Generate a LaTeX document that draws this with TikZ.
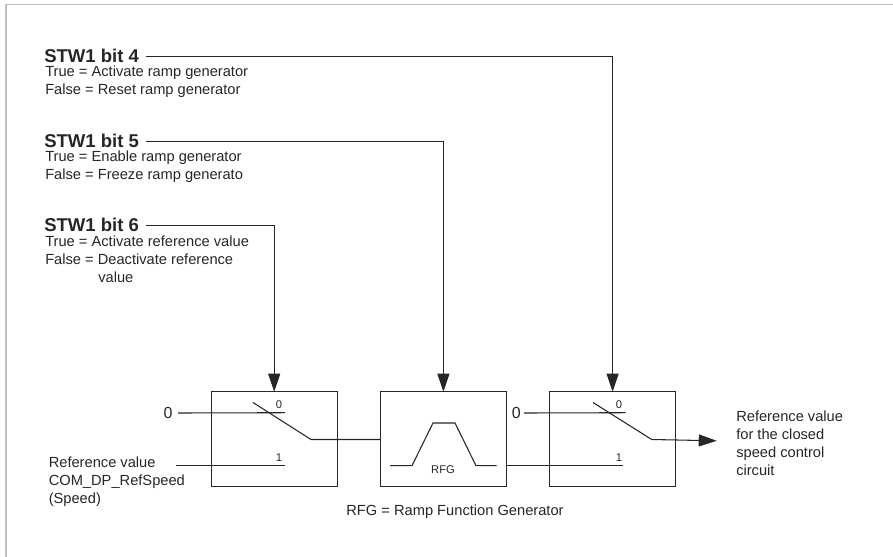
\documentclass[tikz,border=0pt]{standalone}
\usepackage{fontspec}
\setmainfont{Liberation Sans}
\usepackage{xcolor}
\usetikzlibrary{arrows.meta,positioning,calc}

\begin{document}
\begin{tikzpicture}[
  x=0.75pt,y=-0.75pt,
  font=\fontsize{11}{13.5}\selectfont,
  node distance=32.4pt,
  txt/.style={inner sep=0pt,align=left,text=black!85},
  bitname/.style={txt,anchor=north west,font=\fontsize{13.9}{15}\selectfont\bfseries},
  bitnote/.style={txt,anchor=north west},
  block/.style={draw=black!85,line width=0.95pt,minimum width=94.5pt,minimum height=71.25pt,inner sep=0pt,outer sep=0pt},
  small/.style={txt,font=\fontsize{8.4}{10}\selectfont},
  wire/.style={draw=black!85,line width=0.8pt},
  arr/.style={wire,-{Triangle[length=13.5pt,width=9pt]}},
]
\useasboundingbox (0,0) rectangle (893,557);
\draw[black!25,line width=0.9pt] (893,4.5) -- (6,4.5) -- (6,557);
% control word texts
\node[bitname] (bit4) at (44,49) {STW1 bit 4};
\node[bitnote] (note4) at (45,65.7) {True = Activate ramp generator\\False = Reset ramp generator};
\node[bitname] (bit5) at (44,134) {STW1 bit 5};
\node[bitnote] (note5) at (45,151) {True = Enable ramp generator\\False = Freeze ramp generato};
\node[bitname] (bit6) at (44,218) {STW1 bit 6};
\node[bitnote] (note6) at (45,235.5) {True = Activate reference value\\False = Deactivate reference\\\hspace*{39.75pt}value};
% blocks
\node[block] (sw1) at (274.2,439.2) {};
\node[block,right=of sw1] (rfg) {};
\node[block,right=of rfg] (swb) {};
% inputs and outputs
\node[txt,anchor=east,font=\fontsize{12}{13.5}\selectfont] (zeroa) at (172.7,413) {0};
\node[txt,anchor=east,font=\fontsize{12}{13.5}\selectfont] (zerob) at (521,413) {0};
\node[txt,anchor=north west] (refin) at (48.5,456.5) {Reference value\\COM\_DP\_RefSpeed\\(Speed)};
\node[txt,anchor=north west] (refout) at (736,410.5) {Reference value\\for the closed\\speed control\\circuit};
\node[txt,anchor=north] (rfgnote) at (455,505) {RFG = Ramp Function Generator};
\node[small] (rfgname) at (443,470) {RFG};
\node[small] (ca0) at (279,405) {0};
\node[small] (ca1) at (279,457.5) {1};
\node[small] (cb0) at (619,405) {0};
\node[small] (cb1) at (619,457.5) {1};
% switch points
\coordinate (zaend) at (285,412.7);
\coordinate (raend) at (285,465.7);
\coordinate (armat) at (253,402.5);
\coordinate (armb) at (311,439.5);
\coordinate (zbend) at (625.7,412.7);
\coordinate (rbend) at (623,465.7);
\coordinate (brmat) at (593,402.5);
\coordinate (brmb) at (651.7,439.5);
\coordinate (outtip) at (716.7,440.8);
% control lines
\draw[arr] (bit4.east)+(7,0) -| (swb.north);
\draw[arr] (bit5.east)+(7,0) -| (rfg.north);
\draw[arr] (bit6.east)+(7,0) -| (sw1.north);
% switches
\draw[wire] (zeroa.east)+(5.5,0) -- (zaend);
\draw[wire] (refin.north east)+(-9,9.2) -- (raend);
\draw[wire] (armat) -- (armb) -- (rfg.west |- armb);
\draw[wire] (zerob.east)+(3,0) -- (zbend);
\draw[wire] (rfg.east |- rbend) -- (rbend);
\draw[wire] (brmat) -- (brmb);
\draw[arr] (brmb) -- (outtip);
% ramp curve
\draw[wire] (390,465.7) -- (412,465.7) -- (433,423) -- (455,423) -- (476,465.7) -- (496.7,465.7);
\end{tikzpicture}
\end{document}
